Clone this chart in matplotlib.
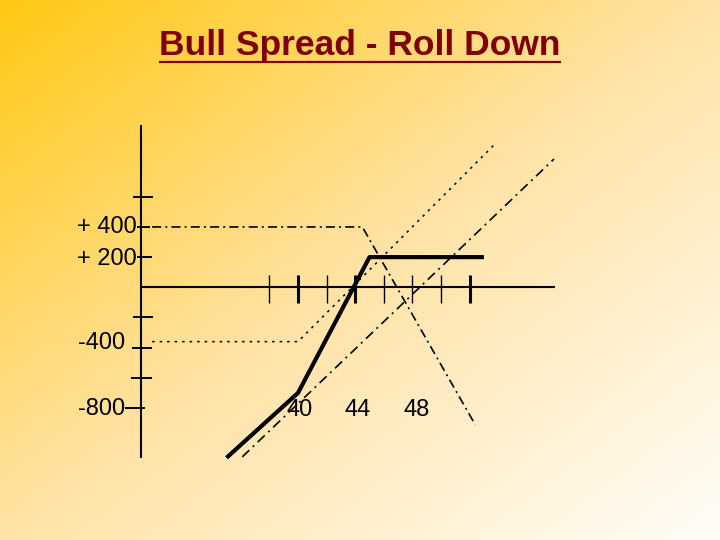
"""Bull spread roll-down payoff slide."""

import matplotlib

matplotlib.use("Agg")
import matplotlib.pyplot as plt
import numpy as np
from matplotlib.lines import Line2D

plt.rcParams["lines.scale_dashes"] = False
plt.rcParams["lines.solid_capstyle"] = "butt"

# ---- data (strike price vs profit / loss) ----
position_x = [35, 40, 45, 53]
position_y = [-1130, -700, 200, 200]

short_call_x = [29.8, 44.5, 52.4]
short_call_y = [400, 400, -912]

long_call_x = [29.8, 40, 53.7]
long_call_y = [-360, -360, 943]

new_call_x = [36.1, 57.9]
new_call_y = [-1124, 850]

x_ticks = [38, 40, 42, 44, 46, 48, 50, 52]
x_bold_ticks = [40, 44, 52]
x_labels = ["40", "44", "48"]
x_label_values = [40, 44, 48]

y_ticks = [600, 400, 200, -200, -400, -600, -800]
y_labels = ["+ 400", "+ 200", "-400", "-800"]
y_label_values = [400, 200, -400, -800]

title = "Bull Spread - Roll Down"

# ---- layout (pixel mapping of the slide) ----
W, H = 720, 540
PX_PER_X = 14.3          # pixels per strike unit
X40_PX = 298             # pixel column of strike 40
PX_PER_Y = 0.1509        # pixels per dollar
Y0_PX = 287.3            # pixel row of zero profit

x_lim = (40 - X40_PX / PX_PER_X, 40 + (W - X40_PX) / PX_PER_X)
y_lim = ((Y0_PX - H) / PX_PER_Y, Y0_PX / PX_PER_Y)

axis_x = 29.0
axis_y_span = (-1130, 1075)
axis_x_span = (29.0, 58.0)
x_tick_span = (80, -105)
y_tick_left = [28.46, 28.75, 28.75, 28.46, 28.39, 28.32, 27.9]
y_tick_right = [29.86, 29.65, 29.79, 29.86, 29.79, 29.79, 29.3]
y_label_right = [28.72, 28.72, 27.9, 27.9]
y_label_nudge = [0, -12, 28, -6]
x_label_nudge = [0.1, 0.2, 0.3]
x_label_y = -815

fig = plt.figure(figsize=(W / 100, H / 100), dpi=100)
ax = fig.add_axes([0, 0, 1, 1])
ax.set_xlim(*x_lim)
ax.set_ylim(*y_lim)
ax.axis("off")

# diagonal orange -> white background
gx, gy = np.meshgrid(np.linspace(0, 1, W), np.linspace(0, 1, H))
t = (gx + gy) / 2
stops = [0.0, 0.5, 1.0]
red = np.interp(t, stops, [255, 255, 255])
green = np.interp(t, stops, [200, 227, 253])
blue = np.interp(t, stops, [18, 166, 248])
background = np.dstack([red, green, blue]) / 255
ax.imshow(background, extent=(*x_lim, *y_lim), aspect="auto", origin="upper", zorder=0)

# hand-drawn style axes
ax.plot([axis_x, axis_x], axis_y_span, color="black", lw=1.5, zorder=2)
ax.plot(axis_x_span, [0, 0], color="black", lw=1.5, zorder=2)
for xt in x_ticks:
    lw = 2.2 if xt in x_bold_ticks else 1.0
    ax.plot([xt, xt], x_tick_span, color="black", lw=lw, zorder=2)
for yt, left, right in zip(y_ticks, y_tick_left, y_tick_right):
    ax.plot([left, right], [yt, yt], color="black", lw=1.4, zorder=2)

# payoff lines
ax.plot(short_call_x, short_call_y, color="black", lw=1.2, dashes=(6.5, 3, 1.4, 3), zorder=3)
ax.plot(long_call_x, long_call_y, color="black", lw=1.1, dashes=(1.8, 3.6), zorder=3)
ax.plot(new_call_x, new_call_y, color="black", lw=1.2, dashes=(7, 3.5, 1.4, 3.5), zorder=3)
ax.plot(position_x, position_y, color="black", lw=3.0, zorder=4)

label_font = ["Liberation Sans Narrow", "Liberation Sans"]
for text, value, right, nudge in zip(y_labels, y_label_values, y_label_right, y_label_nudge):
    ax.text(right, value + nudge, text, ha="right", va="center", fontsize=17,
            family=label_font, color="black", zorder=5)
for text, value, nudge in zip(x_labels, x_label_values, x_label_nudge):
    ax.text(value + nudge, x_label_y, text, ha="center", va="center", fontsize=17,
            family=label_font, color="black", zorder=5)

title_text = fig.text(0.5, 1 - 55 / H, title, ha="center", va="baseline", fontsize=25.5,
                      fontweight="bold", family="Liberation Sans", color="#7f0000")
fig.canvas.draw()
bb = title_text.get_window_extent()
underline_y = 1 - 62 / H
fig.add_artist(Line2D([bb.x0 / W, bb.x1 / W], [underline_y, underline_y],
                      transform=fig.transFigure, color="#7f0000", lw=1.6))

fig.savefig("out.png", dpi=100)
